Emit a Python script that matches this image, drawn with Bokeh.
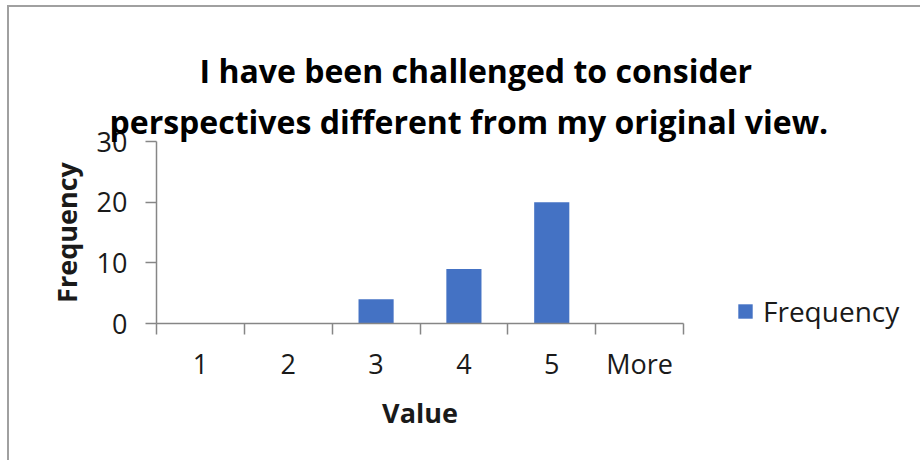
from bokeh.plotting import figure
from bokeh.models import (FixedTicker, Range1d, Legend, LegendItem, Title,
                          ColumnDataSource)
from bokeh.embed import file_html
from bokeh.resources import INLINE

# ---- data ----
categories = ["1", "2", "3", "4", "5", "More"]
frequency = [0, 0, 4, 9, 20, 0]
y_ticks = [0, 10, 20, 30]
title_lines = ["I have been challenged to consider",
               "perspectives different from my original view."]
x_title = "Value"
y_title = "Frequency"
series_name = "Frequency"

BAR = "#4472C4"
AXIS = "#868686"
TXT = "#1a1a1a"
FONT = "Open Sans"

n = len(categories)
centers = [i + 0.5 for i in range(n)]
bounds = [i for i in range(n + 1)]

src = ColumnDataSource(dict(x=centers, top=frequency, cat=categories))

p = figure(frame_width=527, frame_height=182, output_backend="svg", toolbar_location=None,
           x_range=Range1d(0, n), y_range=Range1d(y_ticks[0], y_ticks[-1]),
           min_border_left=156, min_border_right=229,
           min_border_top=141, min_border_bottom=137)
p.title = None
p.background_fill_color = "white"
p.border_fill_alpha = 0
p.outline_line_color = None
p.grid.visible = False
p.styles = {"box-shadow": "inset 7px 5px 0 0 white, inset 9px 7px 0 0 #a0a0a0",
            "background-color": "white"}

r = p.vbar(x="x", top="top", width=0.4, source=src, fill_color=BAR, line_color=None)

# x axis
xa = p.xaxis[0]
xa.ticker = FixedTicker(ticks=centers, minor_ticks=bounds)
xa.major_label_overrides = {c: lab for c, lab in zip(centers, categories)}
xa.major_tick_in = 0
xa.major_tick_out = 0
xa.minor_tick_in = 0
xa.minor_tick_out = 11
xa.minor_tick_line_color = AXIS
xa.axis_line_color = AXIS
xa.axis_line_width = 1.5
xa.minor_tick_line_width = 1.5
xa.major_label_text_font = FONT
xa.major_label_text_font_size = "27px"
xa.major_label_text_color = TXT
xa.major_label_standoff = 10
xa.axis_label = x_title
xa.axis_label_text_font = FONT
xa.axis_label_text_font_style = "bold"
xa.axis_label_text_font_size = "27px"
xa.axis_label_text_color = TXT
xa.axis_label_standoff = 9

# y axis
ya = p.yaxis[0]
ya.ticker = FixedTicker(ticks=y_ticks, minor_ticks=[])
ya.major_tick_in = 0
ya.major_tick_out = 11
ya.minor_tick_in = 0
ya.minor_tick_out = 0
ya.major_tick_line_color = AXIS
ya.major_tick_line_width = 1.5
ya.axis_line_color = AXIS
ya.axis_line_width = 1.5
ya.major_label_text_font = FONT
ya.major_label_text_font_size = "27px"
ya.major_label_text_color = TXT
ya.major_label_standoff = 18
ya.axis_label = y_title
ya.axis_label_text_font = FONT
ya.axis_label_text_font_style = "bold"
ya.axis_label_text_font_size = "27px"
ya.axis_label_text_color = TXT
ya.axis_label_standoff = 9

# title lines (second line nearest the plot)
title_offsets = [43, -47]
title_standoffs = [13, -2]
for txt, off, so in reversed(list(zip(title_lines, title_offsets, title_standoffs))):
    p.add_layout(Title(text=txt, align="left", offset=off, standoff=so,
                       text_font=FONT, text_font_style="bold",
                       text_font_size="32px", text_color="black"), "above")

# legend in right panel
legend = Legend(items=[LegendItem(label=series_name, renderers=[r])],
                location=(53, -7), orientation="vertical",
                padding=0, margin=0, spacing=0,
                glyph_width=18, glyph_height=18, label_standoff=9,
                label_text_font=FONT, label_text_font_size="28px",
                label_text_color=TXT,
                border_line_color=None, background_fill_alpha=0)
p.add_layout(legend, "right")

open("out.html", "w").write(file_html(p, INLINE))
